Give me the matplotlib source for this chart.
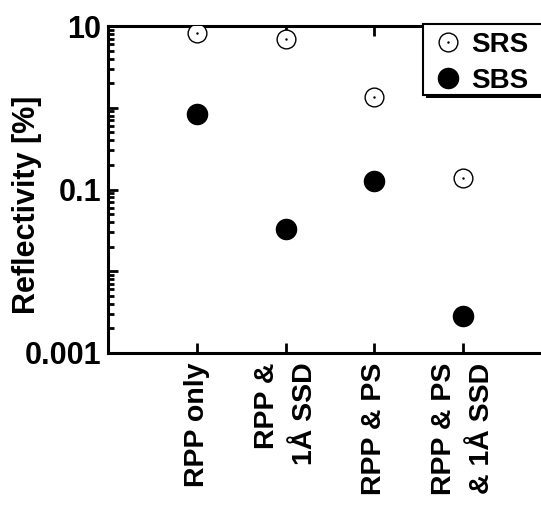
import matplotlib
matplotlib.use("Agg")
import matplotlib.pyplot as plt
from matplotlib.patches import Rectangle
from matplotlib.ticker import FixedLocator, FixedFormatter, LogLocator, NullFormatter

plt.rcParams['font.family'] = ['Liberation Sans', 'DejaVu Sans']
plt.rcParams['font.weight'] = 'bold'

categories = ["RPP only", "RPP &\n1Å SSD", "RPP & PS", "RPP & PS\n& 1Å SSD"]
srs = [8.2, 6.9, 1.36, 0.137]
sbs = [0.83, 0.0326, 0.127, 0.00286]
ytick_vals = [0.001, 0.01, 0.1, 1, 10]
ytick_labels = ["0.001", "", "0.1", "", "10"]

W, H = 541, 508
fig = plt.figure(figsize=(W/100, H/100), dpi=100)
ax = fig.add_axes([108/W, 155/H, (552-108)/W, 327/H])

x = list(range(1, len(categories) + 1))
h_srs, = ax.plot(x, srs, 'o', ms=13.5, mfc='white', mec='black', mew=1.0, ls='none', zorder=3)
h_dot, = ax.plot(x, srs, '.', ms=1.5, color='black', ls='none', zorder=4)
h_sbs, = ax.plot(x, sbs, 'o', ms=14.5, mfc='black', mec='black', ls='none', zorder=3)

ax.set_yscale('log')
ax.set_ylim(0.001, 10)
ax.set_xlim(0, 5)
ax.yaxis.set_major_locator(FixedLocator(ytick_vals))
ax.yaxis.set_major_formatter(FixedFormatter(ytick_labels))
ax.yaxis.set_minor_locator(LogLocator(base=10, subs=range(2, 10)))
ax.yaxis.set_minor_formatter(NullFormatter())

ax.set_xticks(x)
ax.set_xticklabels(categories, rotation=90, va='top', ha='center',
                   multialignment='right', fontsize=20.5, fontweight='bold',
                   linespacing=1.6)
for sp in ax.spines.values():
    sp.set_linewidth(2.2)

ax.tick_params(axis='both', which='major', direction='in', length=7.5, width=2,
               top=True, right=True)
ax.tick_params(axis='y', which='minor', direction='in', length=4.5, width=2, right=True)
ax.tick_params(axis='y', which='major', labelsize=22, pad=5)
ax.tick_params(axis='x', which='major', pad=7)
for lab in ax.get_yticklabels():
    lab.set_fontweight('bold')

ax.set_ylabel("Reflectivity [%]", fontsize=22, fontweight='bold')
ax.yaxis.set_label_coords((42-108)/(552-108), 1 - (205-26)/327)

# legend frame with solid black drop shadow
sh = Rectangle((426/W, 1-98/H), 130/W, 71/H, transform=fig.transFigure,
               facecolor='black', edgecolor='none', zorder=9)
fr = Rectangle((423/W, 1-95/H), 130/W, 71/H, transform=fig.transFigure,
               facecolor='white', edgecolor='black', lw=1.5, zorder=10)
fig.add_artist(sh)
fig.add_artist(fr)

leg = fig.legend([(h_srs, h_dot), h_sbs], ["SRS", "SBS"], loc='upper left',
                 bbox_to_anchor=(434/W, 1 - 32/H), bbox_transform=fig.transFigure,
                 borderaxespad=0, frameon=False,
                 handlelength=1.0, handletextpad=0.35, labelspacing=0.35,
                 borderpad=0.0, prop={'weight': 'bold', 'size': 20})
leg.set_zorder(11)

fig.savefig("out.png", dpi=100)
